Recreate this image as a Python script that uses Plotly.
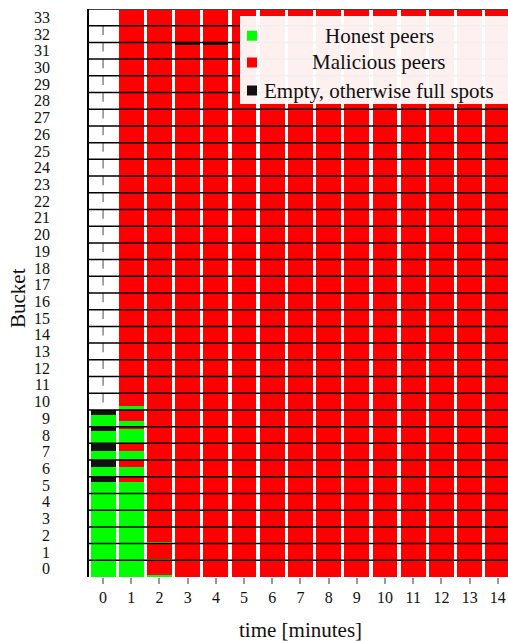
import plotly.graph_objects as go

# ---------------- data ----------------
times = list(range(15))                      # x categories (minutes)
x_tick_labels = [str(t) for t in times]
buckets = list(range(34))                    # y categories (bucket index)
y_tick_labels = [str(b) for b in buckets]

# fraction of each bucket (0..1), listed from bucket 0 upward
honest_t0 = [1.00, 1.00, 1.00, 1.00, 1.00, 0.70, 0.58, 0.56, 0.76, 0.72]
empty_t0 = [0.00, 0.00, 0.00, 0.00, 0.00, 0.30, 0.42, 0.44, 0.24, 0.28]
honest_t1 = [1.00, 1.00, 1.00, 1.00, 1.00, 0.70, 0.56, 0.56, 0.84, 0.32, 0.26]
honest_t2 = [0.10, 0.10, 0.10]
empty_t3 = {31: 0.10}
empty_t4 = {31: 0.10}

filled_buckets_t0 = 10          # at t=0 only buckets 0..9 hold any peers
unfilled_marks_t0 = list(range(10, 33))  # buckets with a marker at t=0

honest_by_time = {0: honest_t0, 1: honest_t1, 2: honest_t2}
empty_by_time = {0: dict(enumerate(empty_t0)), 3: empty_t3, 4: empty_t4}

GREEN = "#00ff00"
RED = "#ff0000"
BLACK = "#111111"
FONT = "Liberation Serif"

# ---------------- build stacked segments ----------------
hx, hy, hb = [], [], []
mx, my, mb = [], [], []
ex, ey, eb = [], [], []
for t in times:
    nb = filled_buckets_t0 if t == 0 else len(buckets)
    hl = honest_by_time.get(t, [])
    ed = empty_by_time.get(t, {})
    for b in range(nb):
        h = hl[b] if b < len(hl) else 0.0
        e = ed.get(b, 0.0)
        m = 0.0 if t == 0 else max(0.0, 1.0 - h - e)
        base = b - 0.5
        if h > 0:
            hx.append(t); hy.append(h); hb.append(base)
        if m > 0:
            mx.append(t); my.append(m); mb.append(base + h)
        if e > 0:
            ex.append(t); ey.append(e); eb.append(base + h + m)

W = 0.88
fig = go.Figure()
fig.add_trace(go.Bar(x=hx, y=hy, base=hb, width=W, marker=dict(color=GREEN, line=dict(width=0)),
                     name="Honest peers", showlegend=False))
fig.add_trace(go.Bar(x=mx, y=my, base=mb, width=W, marker=dict(color=RED, line=dict(width=0)),
                     name="Malicious peers", showlegend=False))
fig.add_trace(go.Bar(x=ex, y=ey, base=eb, width=W, marker=dict(color=BLACK, line=dict(width=0)),
                     name="Empty, otherwise full spots", showlegend=False))

# small gray markers in the unfilled buckets at t=0
vx, vy = [], []
for b in unfilled_marks_t0:
    vx += [0, 0, None]
    vy += [b + 0.5, b - 0.05, None]
fig.add_trace(go.Scatter(x=vx, y=vy, mode="lines", line=dict(color="#888888", width=1.5),
                         showlegend=False, hoverinfo="skip"))

# bucket separators
shapes = []
for b in buckets[:-1]:
    shapes.append(dict(type="line", xref="paper", x0=0, x1=1, yref="y", y0=b + 0.5, y1=b + 0.5,
                       line=dict(color="black", width=1.5), layer="above"))
shapes.append(dict(type="line", xref="paper", x0=0, x1=1, yref="y", y0=33.5, y1=33.5,
                   line=dict(color="#444444", width=2), layer="above"))

# legend (manual, centered text)
PL, PR, PT, PB = 89, 508, 9, 577
def px(x):
    return (x - PL) / (PR - PL)
def py(y):
    return (PB - y) / (PB - PT)

shapes.append(dict(type="rect", xref="paper", yref="paper", x0=px(240), x1=px(512), y0=py(104), y1=py(16),
                   fillcolor="rgba(255,255,255,0.94)", line=dict(width=0), layer="above"))
legend_items = [("Honest peers", GREEN, 35.7), ("Malicious peers", RED, 62.5),
                ("Empty, otherwise full spots", BLACK, 90.5)]
annotations = []
for text, col, cy in legend_items:
    shapes.append(dict(type="rect", xref="paper", yref="paper", x0=px(247), x1=px(257),
                       y0=py(cy + 5), y1=py(cy - 5), fillcolor=col, line=dict(width=0), layer="above"))
    annotations.append(dict(text=text, xref="paper", yref="paper", x=px(379), y=py(cy),
                            xanchor="center", yanchor="middle", showarrow=False,
                            font=dict(family=FONT, size=21, color="#111111")))

# axis titles
annotations.append(dict(text="time [minutes]", xref="paper", yref="paper", x=px(300), y=py(630),
                        xanchor="center", yanchor="middle", showarrow=False,
                        font=dict(family=FONT, size=21, color="#111111")))
annotations.append(dict(text="Bucket", xref="paper", yref="paper", x=px(18), y=py(298),
                        xanchor="center", yanchor="middle", showarrow=False, textangle=-90,
                        font=dict(family=FONT, size=21, color="#111111")))

fig.update_layout(
    width=508, height=641,
    margin=dict(l=89, r=0, t=9, b=64),
    plot_bgcolor="white", paper_bgcolor="white",
    barmode="overlay", bargap=0,
    shapes=shapes, annotations=annotations,
    font=dict(family=FONT, size=16, color="#111111"),
    showlegend=False,
)
fig.update_xaxes(range=[-0.5, 14.36], tickmode="array", tickvals=times, ticktext=x_tick_labels,
                 ticks="outside", ticklen=6, tickcolor="#999999", tickwidth=1.5,
                 showgrid=False, zeroline=False, showline=False,
                 tickfont=dict(family=FONT, size=16, color="#111111"))
fig.update_yaxes(range=[-0.5, 33.5], tickmode="array", tickvals=buckets, ticktext=y_tick_labels,
                 ticks="", ticklabelstandoff=34, showgrid=False, zeroline=False,
                 showline=True, linecolor="black", linewidth=1.5,
                 tickfont=dict(family=FONT, size=16, color="#111111"))

fig.write_html("out.html")
